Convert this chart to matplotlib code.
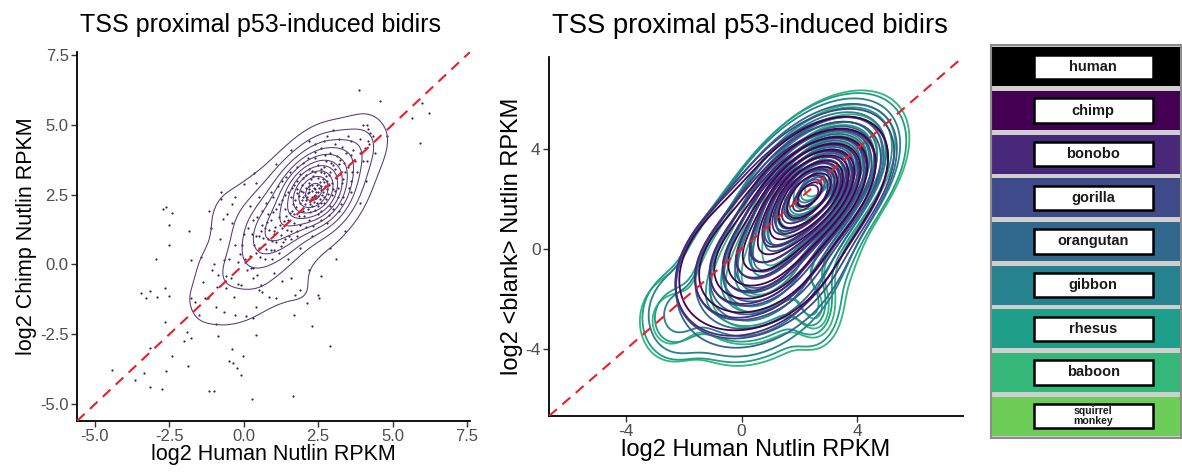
import numpy as np
import matplotlib
matplotlib.use("Agg")
import matplotlib.pyplot as plt
from matplotlib.patches import Rectangle

plt.rcParams['font.family'] = ['Liberation Sans', 'DejaVu Sans']
plt.rcParams['axes.unicode_minus'] = False

# ---------------- data ----------------
# left panel: log2 human vs log2 chimp nutlin RPKM
outlier_pts = [
    (3.88, 6.23), (4.58, 5.85), (6.0, 5.79), (6.22, 5.42), (5.66, 5.23), (5.91, 4.36),
    (4.01, 5.0), (4.13, 5.0), (4.18, 4.83), (4.24, 4.71), (4.35, 4.59), (4.8, 4.59),
    (4.18, 4.41), (4.07, 4.17), (3.9, 4.0), (4.13, 3.7), (3.68, 4.11),
    (-0.77, 2.6), (-0.75, 2.34), (-0.4, 2.16), (-0.55, 1.8), (-1.16, 1.9), (-0.69, 1.62),
    (-2.61, 2.04), (-2.7, 1.98), (-2.41, 1.84), (-2.52, 1.41), (-1.83, 1.19), (-2.5, 0.69),
    (-2.94, 0.19), (-1.77, 0.15), (-1.45, 0.25), (0.35, 3.28), (0.01, 2.87),
    (-3.44, -1.03), (-3.28, -1.21), (-3.16, -0.95), (-2.92, -1.16), (-2.64, -0.85), (-2.52, -1.12),
    (-1.77, -1.21), (-1.65, -1.35), (-1.3, -1.2), (-2.66, -2.06), (-1.99, -2.75), (-1.77, -2.62),
    (-1.9, -2.4), (-3.16, -2.99), (-2.41, -3.29), (-1.88, -3.64), (-4.42, -3.76), (-3.64, -4.12),
    (-3.35, -3.88), (-3.14, -4.39), (-2.74, -4.45), (-2.61, -3.82), (-1.16, -4.53), (-1.0, -4.53),
    (-0.4, -3.01), (-0.49, -3.47), (-0.35, -3.53), (-0.02, -3.29), (-0.21, -3.7), (-0.1, -3.96),
    (0.29, -4.83), (0.4, -2.52), (-0.88, -2.55), (1.65, -4.72), (2.3, -2.2), (2.9, -2.9),
    (2.51, -1.1), (2.53, -1.2), (2.12, -1.38), (1.68, -1.8), (1.73, -1.1),
]
inner_pts = [
    (-1.05, -0.2), (-0.88, -0.38), (-0.66, 0.15), (-0.94, -1.51),
    (0.07, -1.86), (0.4, -1.51), (0.85, -1.15), (0.57, -0.74), (0.23, -0.14),
    (-0.1, -0.74), (-0.32, -1.15), (-0.6, -0.85), (-0.43, -0.5), (0.46, -0.38),
    (0.2, 0.3), (0.5, 0.6), (0.8, 0.9), (0.4, 1.0), (0.7, 0.2), (0.1, -0.2), (-0.2, 0.1),
    (0.3, -0.5), (0.9, 0.5), (1.2, 0.4), (0.6, 1.4), (0.3, 1.6), (0.0, 1.1), (-0.3, 0.7),
    (-0.5, 0.2), (-0.6, -0.4), (-0.2, -0.7), (0.5, -0.9), (1.0, -0.3), (1.5, 0.2), (0.8, 1.8),
    (0.2, 2.1), (-0.4, 1.5), (-0.8, 0.9), (-1.0, 0.0), (-0.9, -0.8),
    (0.6, -1.0), (1.3, -0.6), (1.9, 0.6), (2.3, 1.0), (2.8, 1.5), (3.2, 1.9),
    (3.6, 2.6), (3.8, 3.3), (3.6, 3.9), (3.3, 4.2), (2.9, 4.0), (2.4, 3.8), (1.8, 3.5),
    (1.3, 3.0), (0.9, 2.6), (0.5, 2.4),
    (4.0, 3.7), (4.2, 4.3), (3.9, 4.5), (4.4, 4.0), (3.5, 4.6), (4.1, 3.0), (3.9, 2.2),
    (3.4, 1.2), (2.9, 0.6), (2.2, -0.2), (1.6, -0.5), (1.1, -1.2), (-1.5, -1.8),
    (-1.1, 1.3), (-0.3, 2.4), (0.4, 2.9), (1.1, 3.6), (1.6, 4.1), (2.2, 4.4), (2.8, 4.6),
    (1.9, -0.9), (2.6, -0.4), (3.1, 0.2),
    (-1.2, -1.2), (-0.66, -1.69), (-0.3, -1.8), (0.3, -1.9), (-1.38, -0.62), (-0.94, -2.14),
    (2.7, 4.4), (3.2, 4.5), (2.4, 4.3), (3.6, 4.4), (3.0, 4.8),
]
core_pts = [
    (2.0, 2.6), (2.2, 2.9), (2.4, 2.5), (2.6, 2.8), (2.5, 3.1), (2.8, 3.0), (2.1, 2.3), (2.3, 2.1),
    (2.7, 2.4), (1.9, 2.2), (2.9, 3.3), (3.1, 3.1), (2.6, 2.2), (2.2, 2.7), (2.4, 3.3), (1.8, 2.7),
    (2.0, 1.9), (1.7, 1.8), (1.5, 1.6), (1.4, 2.0), (1.6, 2.4), (1.8, 3.0), (2.1, 3.2), (2.7, 3.5),
    (3.0, 2.7), (3.2, 3.6), (3.4, 3.3), (3.3, 2.9), (2.9, 2.1), (2.5, 1.8), (2.2, 1.6), (1.9, 1.4),
    (1.3, 1.3), (1.2, 1.7), (1.0, 1.1), (1.1, 0.8), (1.4, 0.9), (1.6, 1.2), (2.3, 2.4), (2.5, 2.6),
    (2.0, 2.4), (2.8, 2.7), (2.6, 3.3), (2.35, 2.75), (2.15, 2.55), (2.45, 2.2), (1.95, 2.85),
    (2.75, 3.15), (3.05, 3.4), (1.75, 2.05), (2.55, 2.95), (2.25, 2.35), (1.85, 1.75), (2.65, 2.6),
    (2.1, 2.75), (2.35, 2.45), (2.55, 2.35), (2.45, 2.85), (2.25, 3.05), (2.65, 3.05), (2.85, 2.85),
    (2.05, 2.15), (1.85, 2.45), (1.65, 2.15), (1.55, 1.85), (1.35, 1.55), (1.25, 1.05), (1.05, 1.35),
    (0.95, 0.85), (0.85, 1.25), (0.75, 0.55), (0.65, 0.95), (1.45, 1.25), (1.7, 1.5), (1.9, 1.9),
    (2.15, 2.0), (2.4, 1.95), (2.7, 2.2), (2.95, 2.5), (3.15, 2.75), (3.35, 3.05), (3.5, 3.5),
    (3.25, 3.75), (3.0, 3.55), (2.75, 3.7), (2.5, 3.55), (2.3, 3.35), (2.0, 3.1), (1.7, 2.85),
    (1.5, 2.6), (1.3, 2.3), (1.1, 2.0), (0.9, 1.6), (0.7, 1.3), (0.5, 1.0), (0.35, 0.7),
    (0.55, 0.25), (0.95, 0.2), (1.25, 0.65), (1.6, 0.9), (1.8, 1.2), (2.1, 1.35), (2.6, 1.6),
    (3.0, 2.0), (3.35, 2.4), (3.6, 3.0), (3.75, 3.7), (3.45, 4.0), (3.05, 4.3), (2.6, 4.15),
    (2.15, 3.8), (1.55, 3.3), (1.15, 2.8), (0.75, 2.2), (0.45, 1.7), (0.15, 1.3), (-0.05, 0.7),
    (0.05, 0.2), (2.4, 2.7), (2.2, 2.6), (2.5, 2.45), (2.3, 2.85), (2.6, 2.65), (2.05, 2.5),
    (1.95, 2.3), (2.7, 2.95), (2.35, 2.25), (1.8, 2.55), (2.85, 3.2),
    (2.28, 2.62), (2.42, 2.38), (2.18, 2.82), (2.62, 2.48), (2.52, 2.72), (2.12, 2.42),
    (2.72, 2.82), (2.32, 3.18), (1.92, 2.62), (2.82, 2.52), (1.72, 2.32), (2.98, 2.92),
    (1.62, 1.92), (1.42, 1.72), (1.22, 1.42), (1.02, 1.18), (2.02, 1.72), (2.22, 1.88),
    (2.48, 2.08), (2.78, 2.35), (3.08, 2.62), (3.22, 3.22), (2.92, 3.62), (2.58, 3.42),
    (2.18, 3.42), (1.88, 3.22), (1.62, 2.72), (1.38, 2.48), (1.18, 2.18), (0.98, 1.88),
    (0.78, 1.52), (0.58, 1.18), (0.42, 0.42), (0.72, 0.72), (1.02, 0.52), (1.32, 0.82),
    (1.52, 1.02), (1.78, 1.02), (2.32, 1.38), (2.88, 1.78), (3.28, 2.18), (3.52, 2.72),
    (3.62, 3.32), (3.38, 3.62), (3.12, 3.88), (2.72, 3.92), (2.38, 4.02), (1.98, 3.62),
    (1.42, 3.12), (0.98, 2.42), (0.62, 1.92), (0.28, 1.08), (-0.12, 0.38), (0.32, -0.12),
    (2.44, 2.58), (2.24, 2.18), (2.68, 3.28), (1.98, 2.02), (2.58, 1.92), (3.18, 2.42),
]

# right panel: species, legend colours and density summaries
# each component: (weight, mean_x, mean_y, sd_x, sd_y, rho)
species = ['human', 'chimp', 'bonobo', 'gorilla', 'orangutan',
           'gibbon', 'rhesus', 'baboon', 'squirrel\nmonkey']
species_colors = ['#000000', '#440154', '#482878', '#3E4A89', '#31688E',
                  '#26828E', '#1F9E89', '#35B779', '#6DCD59']
density_parts = {
    'chimp':     [(0.55, 2.5, 2.4, 1.2, 1.35, 0.45), (0.45, 0.6, -0.4, 1.55, 1.6, 0.3)],
    'bonobo':    [(0.55, 2.4, 2.3, 1.25, 1.4, 0.45), (0.45, 0.5, -0.5, 1.55, 1.65, 0.3)],
    'gorilla':   [(0.55, 2.5, 2.5, 1.3, 1.45, 0.45), (0.45, 0.6, -0.5, 1.6, 1.7, 0.3)],
    'orangutan': [(0.52, 2.6, 2.6, 1.3, 1.5, 0.45), (0.48, 0.7, -0.6, 1.6, 1.8, 0.3)],
    'gibbon':    [(0.52, 2.6, 2.7, 1.35, 1.55, 0.45), (0.45, 0.7, -0.8, 1.6, 1.9, 0.3),
                  (0.03, -2.4, -2.7, 0.65, 1.0, 0.0)],
    'rhesus':    [(0.5, 2.7, 2.8, 1.4, 1.6, 0.45), (0.44, 0.7, -0.9, 1.65, 1.95, 0.3),
                  (0.035, -2.5, -2.8, 0.65, 1.0, 0.0), (0.025, 2.5, -2.4, 0.45, 0.8, 0.0)],
    'baboon':    [(0.5, 2.8, 2.9, 1.4, 1.6, 0.45), (0.44, 0.8, -1.0, 1.7, 2.0, 0.3),
                  (0.035, -2.6, -2.9, 0.65, 1.0, 0.0), (0.025, 2.6, -2.5, 0.45, 0.8, 0.0)],
}

title = 'TSS proximal p53-induced bidirs'
W, H = 1182, 472


def bw_nrd(v):
    q1, q3 = np.percentile(v, [25, 75])
    return 4 * 1.06 * min(np.std(v, ddof=1), (q3 - q1) / 1.34) * len(v) ** (-0.2)


def levels_for(zmax, k):
    step = zmax / (k + 0.5)
    return step * np.arange(1, k + 1)


def kde2d(x, y, lims, n=100):
    hx, hy = bw_nrd(x) / 4, bw_nrd(y) / 4
    gx = np.linspace(lims[0], lims[1], n)
    gy = np.linspace(lims[2], lims[3], n)
    kx = np.exp(-0.5 * ((gx[:, None] - x[None, :]) / hx) ** 2)
    ky = np.exp(-0.5 * ((gy[:, None] - y[None, :]) / hy) ** 2)
    z = kx @ ky.T / (len(x) * 2 * np.pi * hx * hy)
    return gx, gy, z.T


def mixture(parts, gx, gy):
    X, Y = np.meshgrid(gx, gy)
    z = np.zeros_like(X)
    for w, mx, my, sx, sy, r in parts:
        dx, dy = (X - mx) / sx, (Y - my) / sy
        q = (dx ** 2 - 2 * r * dx * dy + dy ** 2) / (1 - r ** 2)
        z += w * np.exp(-0.5 * q) / (2 * np.pi * sx * sy * np.sqrt(1 - r ** 2))
    return z


def style(ax, lims, ticks, fmt, lsize):
    ax.set_xlim(lims)
    ax.set_ylim(lims)
    for s in ['top', 'right']:
        ax.spines[s].set_visible(False)
    for s in ['left', 'bottom']:
        ax.spines[s].set_linewidth(1.3)
        ax.spines[s].set_color('black')
    ax.set_xticks(ticks)
    ax.set_yticks(ticks)
    ax.set_xticklabels([fmt % t for t in ticks])
    ax.set_yticklabels([fmt % t for t in ticks])
    ax.tick_params(length=4, width=1, color='#333333', labelcolor='#4D4D4D',
                   labelsize=lsize, pad=2)
    ax.plot(lims, lims, ls=(0, (5, 3.5)), color='#E8202A', lw=1.5, zorder=5)


fig = plt.figure(figsize=(W / 100, H / 100), dpi=100)

# ---------------- left panel ----------------
ax1 = fig.add_axes([77 / W, 1 - 421 / H, 393 / W, 369 / H])
pts = np.array(outlier_pts + inner_pts + core_pts)
hx_, cy_ = pts[:, 0], pts[:, 1]
gx, gy, z = kde2d(hx_, cy_, [hx_.min(), hx_.max(), cy_.min(), cy_.max()])
ax1.contour(gx, gy, z, levels=levels_for(z.max(), 10), colors='#55397A', linewidths=0.75)
ax1.scatter(hx_, cy_, s=2.5, color='#3A1F55', lw=0)
style(ax1, (-5.6, 7.6), [-5, -2.5, 0, 2.5, 5, 7.5], '%.1f', 12)
ax1.set_xlabel('log2 Human Nutlin RPKM', fontsize=15.5, labelpad=0)
ax1.set_ylabel('log2 Chimp Nutlin RPKM', fontsize=15.5, labelpad=2)
fig.text(80 / W, 1 - 25 / H, title, fontsize=18, va='center', ha='left')

# ---------------- right panel ----------------
ax2 = fig.add_axes([549 / W, 1 - 416 / H, 414 / W, 359 / H])
glim = (-6.65, 7.65)
gx2 = np.linspace(glim[0], glim[1], 220)
gy2 = np.linspace(glim[0], glim[1], 220)
for name in reversed(species[1:8]):
    z2 = mixture(density_parts[name], gx2, gy2)
    ax2.contour(gx2, gy2, z2, levels=levels_for(z2.max(), 10),
                colors=species_colors[species.index(name)], linewidths=1.3)
style(ax2, glim, [-4, 0, 4], '%d', 12.5)
ax2.set_xlabel('log2 Human Nutlin RPKM', fontsize=17, labelpad=0)
ax2.set_ylabel('log2 <blank> Nutlin RPKM', fontsize=17, labelpad=2)
fig.text(552 / W, 1 - 26 / H, title, fontsize=19.7, va='center', ha='left')

# ---------------- species legend ----------------
leg = fig.add_axes([991 / W, 1 - 438 / H, 190 / W, 393 / H])
leg.set_facecolor('#CFCFCF')
n = len(species)
ypos = np.arange(n)[::-1]
leg.barh(ypos, 1, height=0.9, left=0, color=species_colors)
for y, name in zip(ypos, species):
    leg.add_patch(Rectangle((0.225, y - 0.28), 0.625, 0.56, fc='white',
                            ec='black', lw=1.8, zorder=3))
    fs = 7.6 if '\n' in name else 10.5
    leg.text(0.5375, y, name, ha='center', va='center', fontsize=fs,
             fontweight='bold', color='#1a1a1a', zorder=4, linespacing=0.95)
leg.set_xlim(0, 1)
leg.set_ylim(-0.5, n - 0.5)
leg.set_xticks([])
leg.set_yticks([])
for s in leg.spines.values():
    s.set_color('#8C8C8C')
    s.set_linewidth(1.5)

fig.savefig('out.png', dpi=100)
